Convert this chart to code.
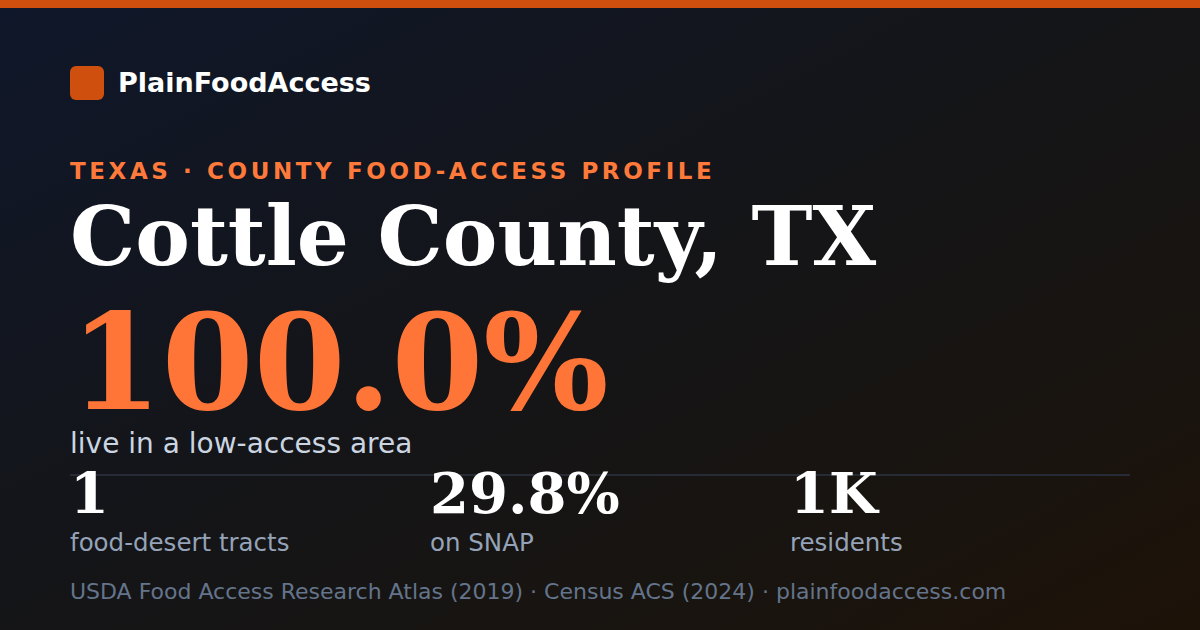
<!DOCTYPE html>
<html>
<head>
<meta charset="utf-8">
<script src="https://cdn.jsdelivr.net/npm/chart.js@4.4.1/dist/chart.umd.min.js"></script>
<style>
  html, body { margin: 0; padding: 0; }
  body {
    width: 1200px; height: 630px; overflow: hidden; position: relative;
    background: linear-gradient(152deg, #0f172a 0%, #141519 45%, #181410 75%, #1d1208 100%);
    font-family: "DejaVu Sans", sans-serif;
  }
  .topbar { position: absolute; left: 0; top: 0; width: 1200px; height: 8px; background: #cf500e; }
  .abs { position: absolute; line-height: 1; white-space: nowrap; }
  .logo { position: absolute; left: 70px; top: 66px; width: 34px; height: 34px; border-radius: 6px; background: #cf500e; }
  .brand { left: 118px; top: 69px; font-size: 27px; font-weight: bold; color: #ffffff; }
  .kicker { left: 70px; top: 160px; font-size: 23px; font-weight: bold; color: #ff7a3a; letter-spacing: 3.6px; }
  .title { left: 70px; top: 195px; font-family: "DejaVu Serif", serif; font-weight: bold; font-size: 82px; color: #ffffff; }
  .big { left: 70px; top: 297px; font-family: "DejaVu Serif", serif; font-weight: bold; font-size: 132px; color: #ff7538; }
  .sub { left: 70px; top: 430px; font-size: 28px; color: #cbd5e1; }
  .rule { position: absolute; left: 70px; top: 474px; width: 1060px; height: 2px; background: #272b35; }
  .stat-v { top: 465px; font-family: "DejaVu Serif", serif; font-weight: bold; font-size: 56px; color: #ffffff; }
  .stat-l { top: 531px; font-size: 24.5px; color: #94a3b8; }
  .foot { left: 70px; top: 581px; font-size: 22px; color: #64748b; }
</style>
</head>
<body>
<div class="topbar"></div>
<div class="logo"></div>
<div class="abs brand" id="brand"></div>
<div class="abs kicker" id="kicker"></div>
<div class="abs title" id="title"></div>
<div class="abs big" id="big"></div>
<div class="abs sub" id="sub"></div>
<div class="rule"></div>
<div id="stats"></div>
<div class="abs foot" id="foot"></div>

<script>
// contenido de la tarjeta
const brandName   = 'PlainFoodAccess';
const stateLabel  = 'TEXAS · COUNTY FOOD-ACCESS PROFILE';
const countyName  = 'Cottle County, TX';
const lowAccess   = ['100.0%'];
const lowAccessTx = 'live in a low-access area';
const statValues  = ['1', '29.8%', '1K'];
const statLabels  = ['food-desert tracts', 'on SNAP', 'residents'];
const sources     = ['USDA Food Access Research Atlas (2019)', 'Census ACS (2024)', 'plainfoodaccess.com'];

document.getElementById('brand').textContent  = brandName;
document.getElementById('kicker').textContent = stateLabel;
document.getElementById('title').textContent  = countyName;
document.getElementById('big').textContent    = lowAccess[0];
document.getElementById('sub').textContent    = lowAccessTx;
document.getElementById('foot').textContent   = sources.join(' · ');

// columnas de estadísticas
const stats = document.getElementById('stats');
statValues.forEach((v, i) => {
  const left = 70 + i * 360;
  const val = document.createElement('div');
  val.className = 'abs stat-v';
  val.style.left = left + 'px';
  val.textContent = v;
  const lab = document.createElement('div');
  lab.className = 'abs stat-l';
  lab.style.left = left + 'px';
  lab.textContent = statLabels[i];
  stats.appendChild(val);
  stats.appendChild(lab);
});
</script>
</body>
</html>
